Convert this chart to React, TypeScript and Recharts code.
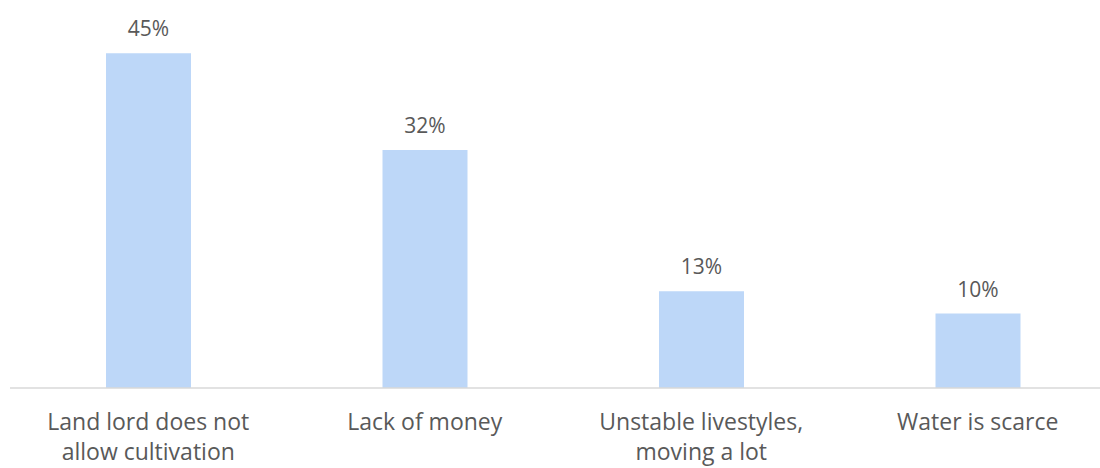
import React from "react";
import { BarChart, Bar, XAxis, YAxis, LabelList } from "recharts";

const categories = [
  "Land lord does not\nallow cultivation",
  "Lack of money",
  "Unstable livestyles,\nmoving a lot",
  "Water is scarce",
];
const values = [45, 32, 13, 10];

const data = categories.map((c, i) => ({ name: c, value: values[i] }));

const FONT = "'Open Sans', sans-serif";

const Tick = (props: any) => {
  const { x, payload } = props;
  const lines = String(payload.value).split("\n");
  return (
    <text x={x} y={0} textAnchor="middle" fill="#595959" fontSize={23} fontFamily={FONT}>
      {lines.map((l, i) => (
        <tspan key={i} x={x} y={430 + i * 30}>
          {l}
        </tspan>
      ))}
    </text>
  );
};

export default function App() {
  return (
    <div style={{ position: "absolute", left: 0, top: 0, width: 1100, height: 468, overflow: "hidden", background: "#fff" }}>
      <BarChart
        width={1120}
        height={468}
        data={data}
        margin={{ top: 16, right: 4, bottom: 0, left: 10 }}
      >
        <XAxis
          dataKey="name"
          height={80}
          axisLine={{ stroke: "#D9D9D9", strokeWidth: 1.5 }}
          tickLine={false}
          tick={<Tick />}
          interval={0}
        />
        <YAxis hide domain={[0, 50]} />
        <Bar dataKey="value" fill="#BDD7F8" barSize={85} isAnimationActive={false}>
          <LabelList
            dataKey="value"
            position="top"
            offset={17}
            formatter={(v: any) => `${v}%`}
            fill="#595959"
            fontSize={21}
            fontFamily={FONT}
          />
        </Bar>
      </BarChart>
    </div>
  );
}
